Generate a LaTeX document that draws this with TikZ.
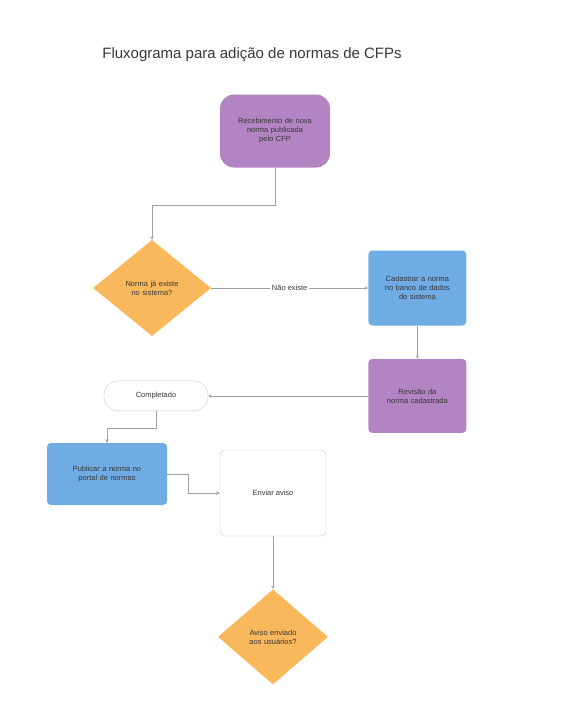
\documentclass[tikz,border=0pt]{standalone}
\usepackage{fontspec}
\setmainfont{Liberation Sans}
\usetikzlibrary{positioning, arrows, calc, shapes.geometric}
\definecolor{roxo}{RGB}{178,132,196}
\definecolor{azul}{RGB}{112,172,228}
\definecolor{laranja}{RGB}{250,184,92}
\definecolor{linha}{RGB}{160,160,160}
\definecolor{texto}{RGB}{55,55,55}
\tikzset{
	>=stealth,
	every node/.style={font=\fontsize{7.5}{9}\selectfont, text=texto, align=center},
	conn/.style={->, draw=linha, line width=0.6pt},
	inicio/.style={rounded corners=14pt, fill=roxo, minimum width=110pt, minimum height=73pt, text width=95pt},
	processo/.style={fill=azul, rounded corners=4pt, minimum width=98pt, minimum height=75pt, text width=86pt},
	revisao/.style={fill=roxo, rounded corners=4pt, minimum width=98pt, minimum height=74pt, text width=86pt},
	decisao/.style={diamond, fill=laranja, inner sep=0pt, text width=80pt},
	terminal/.style={draw=linha!60, rounded corners=14pt, minimum width=104pt, minimum height=30pt},
	caixa/.style={draw=linha!60, rounded corners=5pt, minimum width=106pt, minimum height=86pt},
	rotulo/.style={fill=white, inner sep=2pt},
}
\begin{document}
\begin{tikzpicture}[x=1pt, y=1pt]
	\useasboundingbox (0,0) rectangle (563,-712);
	\node[font=\fontsize{15}{17}\selectfont] (titulo) at (252,-55) {Fluxograma para adição de normas de CFPs};
	
	\node [inicio] (START) at (275,-131) {Recebimento de nova\\norma publicada\\pelo CFP};
	\node [decisao, minimum width=118pt, minimum height=96pt] (EXISTE) at (152,-288) {Norma já existe\\no sistema?};
	\node [processo, right=157pt of EXISTE] (CADASTRO) {Cadastrar a norma\\no banco de dados\\do sistema};
	\node [revisao, below=33pt of CADASTRO] (REVISAO) {Revisão da\\norma cadastrada};
	\node [terminal, left=160pt of REVISAO] (FIM) {Completado};
	\node [processo, minimum width=120pt, minimum height=62pt, text width=106pt] (PUBLICA) at (107,-474) {Publicar a norma no\\portal de normas};
	\node [caixa] (AVISO) at (273,-493) {Enviar aviso};
	\node [decisao, minimum width=110pt, minimum height=95pt, below=53pt of AVISO] (ENVIADO) {Aviso enviado\\aos usuários?};
	
	\coordinate (k1) at (152,-205);
	\coordinate (k2) at (107,-428);
	\coordinate (k3) at (188,-474);
	
	\draw[conn] (START.south) |- (k1) -- (EXISTE);
	\draw[conn] (EXISTE) -- node[rotulo]{Não existe} (CADASTRO);
	\draw[conn] (CADASTRO) -- (REVISAO);
	\draw[conn] (REVISAO) -- (FIM);
	\draw[conn] (FIM.south) |- (k2) -- (PUBLICA);
	\draw[conn] (PUBLICA) -- (k3) |- (AVISO);
	\draw[conn] (AVISO) -- (ENVIADO);
\end{tikzpicture}
\end{document}
